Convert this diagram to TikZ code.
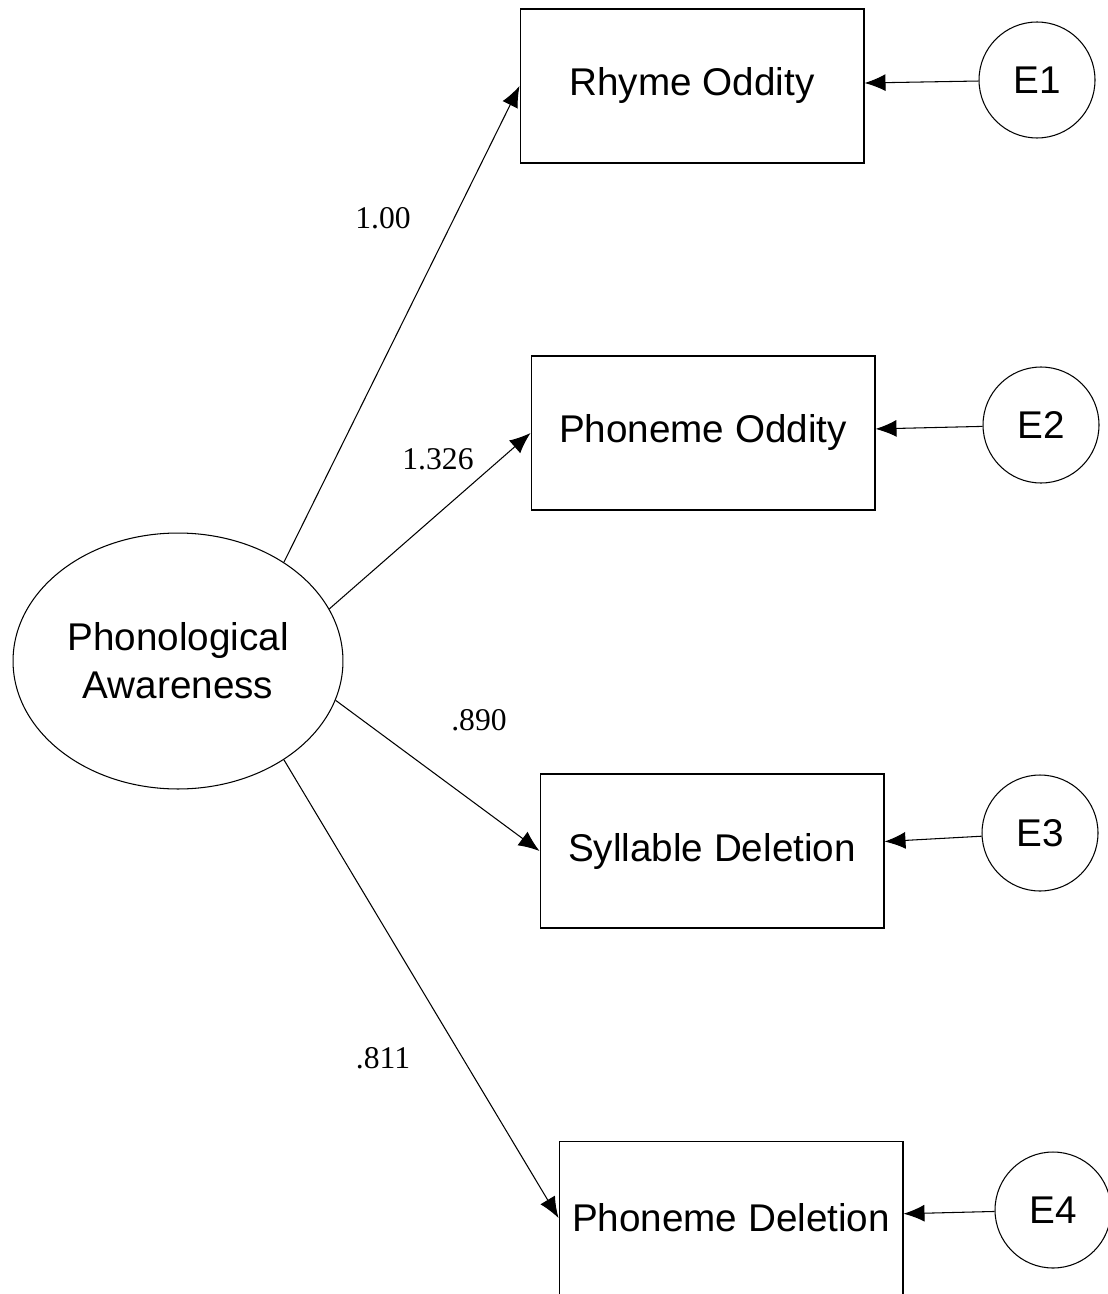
\documentclass[tikz,border=0pt]{standalone}
\usepackage{fontspec}
\setmainfont{Liberation Serif}
\setsansfont{Liberation Sans}
\usetikzlibrary{shapes,arrows.meta}

\begin{document}
\begin{tikzpicture}[x=0.02cm,y=-0.02cm,->,>={Latex[length=0.42cm,width=0.34cm]},
                    line width=0.6pt,
                    measure/.style={draw,rectangle,minimum width=6.88cm,minimum height=3.08cm,
                                    inner sep=0pt,font=\sffamily\fontsize{22}{26}\selectfont},
                    latent/.style={draw,ellipse,minimum width=6.6cm,minimum height=5.12cm,
                                   inner sep=0pt,align=center,font=\sffamily\fontsize{22}{27.5}\selectfont},
                    err/.style={draw,circle,minimum size=2.32cm,inner sep=0pt,
                                font=\sffamily\fontsize{22}{26}\selectfont},
                    coef/.style={font=\fontsize{18}{20}\selectfont}]

  \useasboundingbox (0,0) rectangle (1108,1294);

  \node[latent]  (PA) at (178,661)  {Phonological\\Awareness};

  \node[measure] (RO) at (692,86)   {Rhyme Oddity};
  \node[measure] (PO) at (703,433)  {Phoneme Oddity};
  \node[measure] (SD) at (712,851)  {Syllable Deletion};
  \node[measure] (PD) at (731,1218) {Phoneme Deletion};

  \node[err]     (E1) at (1037,80)   {E1};
  \node[err]     (E2) at (1041,425)  {E2};
  \node[err]     (E3) at (1040,833)  {E3};
  \node[err]     (E4) at (1053,1210) {E4};

  \node[coef] (l1) at (383,218)  {1.00};
  \node[coef] (l2) at (438,459)  {1.326};
  \node[coef] (l3) at (479,720)  {.890};
  \node[coef] (l4) at (383,1058) {.811};

  \path (PA.43)  edge (RO.west)
        (PA.19)  edge (PO.west)
        (PA.-14) edge (SD.west)
        (PA.-43) edge (PD.west)
        (E1) edge (RO)
        (E2) edge (PO)
        (E3) edge (SD)
        (E4) edge (PD);
\end{tikzpicture}
\end{document}
